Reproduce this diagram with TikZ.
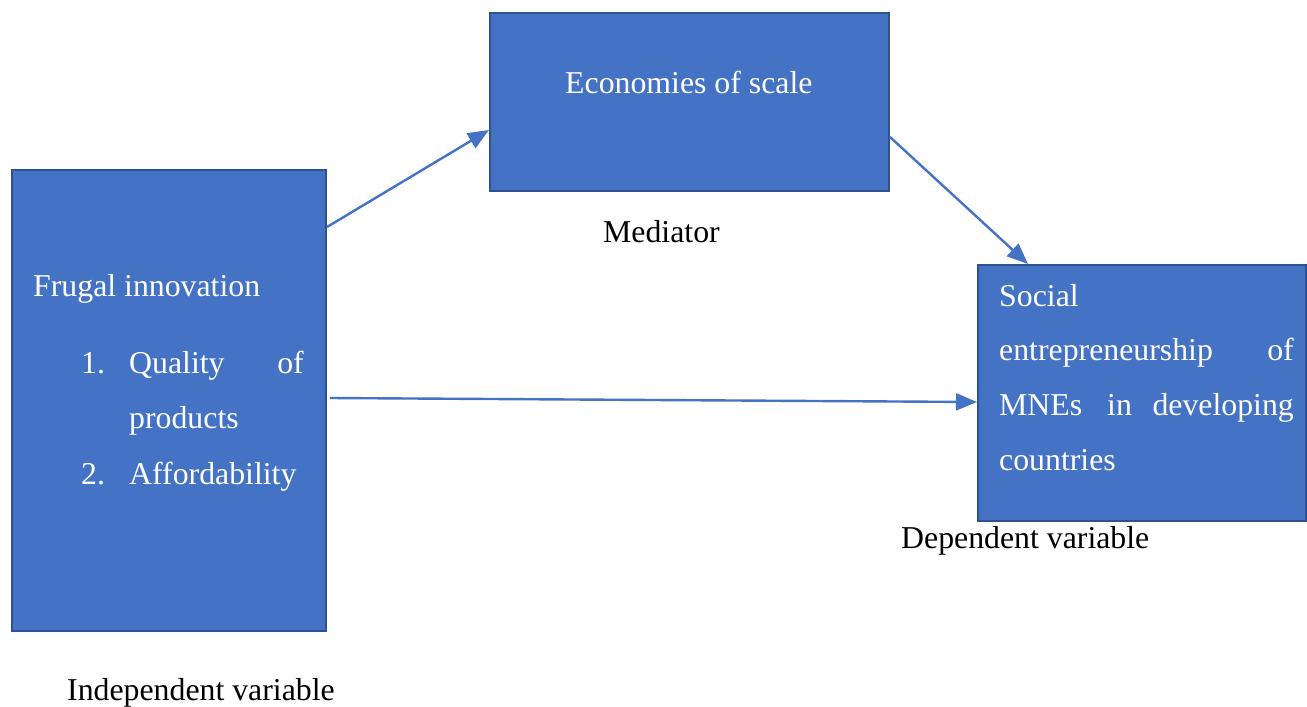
\documentclass[tikz,border=0pt]{standalone}
\usepackage{fontspec}
\setmainfont{Liberation Serif}
\usetikzlibrary{arrows.meta}
\definecolor{boxfill}{HTML}{4472C4}
\definecolor{boxline}{HTML}{2F528F}
\tikzset{
  varbox/.style={draw=boxline, fill=boxfill, line width=2pt, inner sep=0pt, anchor=north west},
  intext/.style={text=white, font=\fontsize{31.8}{36}\selectfont, inner sep=0pt},
  outtext/.style={text=black, font=\fontsize{31.8}{36}\selectfont, inner sep=0pt, anchor=base west},
  link/.style={draw=boxfill, line width=2.4pt, -{Triangle[length=21pt,width=17pt]}}
}
\begin{document}
\begin{tikzpicture}[x=1pt,y=-1pt]
\useasboundingbox (0,0) rectangle (1307,707);
% boxes
\node[varbox, minimum width=314pt, minimum height=461pt] (L) at (11,169) {};
\node[varbox, minimum width=399pt, minimum height=178pt] (M) at (489,12) {};
\node[varbox, minimum width=328pt, minimum height=256pt] (R) at (977,264) {};
% left box text
\node[intext, anchor=base west] (fi) at (33,296) {Frugal innovation};
\node[intext, anchor=base west] (n1) at (81,373) {1.};
\node[intext, anchor=base west] (q1) at (129,373) {Quality};
\node[intext, anchor=base east] (q2) at (304,373) {of};
\node[intext, anchor=base west] (q3) at (129,428) {products};
\node[intext, anchor=base west] (n2) at (81,484) {2.};
\node[intext, anchor=base west] (af) at (129,484) {Affordability};
% mediator text
\node[intext, anchor=base west] (es) at (565,93) {Economies of scale};
% right box text
\node[intext, anchor=base west] (r1) at (999,306) {Social};
\node[intext, anchor=base west] (r2) at (999,360) {entrepreneurship};
\node[intext, anchor=base east] (r3) at (1294,360) {of};
\node[intext, anchor=base west] (r4) at (999,415) {MNEs};
\node[intext, anchor=base west] (r5) at (1107,415) {in};
\node[intext, anchor=base east] (r6) at (1294,415) {developing};
\node[intext, anchor=base west] (r7) at (999,470) {countries};
% labels
\node[outtext] (lm) at (603,242) {Mediator};
\node[outtext] (ld) at (901,548) {Dependent variable};
\node[outtext] (li) at (67,700) {Independent variable};
% connectors
\draw[link] ([yshift=-58pt]L.north east) -- ([yshift=-118pt]M.north west);
\draw[link] ([yshift=-125pt]M.north east) -- ([xshift=51pt]R.north west);
\draw[link] ([xshift=3pt,yshift=-229pt]L.north east) -- ([yshift=-138pt]R.north west);
\end{tikzpicture}
\end{document}
